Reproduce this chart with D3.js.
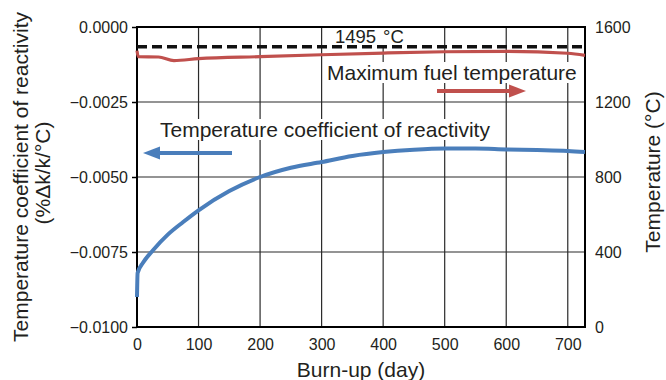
<!DOCTYPE html>
<html><head><meta charset="utf-8">
<script src="https://cdn.jsdelivr.net/npm/d3@7"></script>
<style>
body{margin:0;background:#fff;}
text{font-family:"Liberation Sans",Arial,Helvetica,sans-serif;fill:#231f20;}
</style></head>
<body><svg id="c" width="666" height="380"></svg>
<script>
// Data
const coefDays = [0, 1, 10, 26, 50, 75, 100, 150, 200, 250, 300, 350, 400, 450, 500, 550, 600, 650, 700, 728];
const coefValues = [-0.0090, -0.0082, -0.00785, -0.00744, -0.00692, -0.0065, -0.00611, -0.00547, -0.0050, -0.00469, -0.0045, -0.0043, -0.00417, -0.00409, -0.00405, -0.00405, -0.00408, -0.0041, -0.00413, -0.00417];
const tempDays = [0, 2, 35, 60, 100, 200, 300, 400, 500, 600, 700, 728];
const tempValues = [1474, 1442, 1440, 1421, 1431, 1442, 1452, 1461, 1468, 1470, 1460, 1449];
const limitTemp = 1495;
const xTicks = [0, 100, 200, 300, 400, 500, 600, 700];
const leftTicks = [0, -0.0025, -0.005, -0.0075, -0.01];
const leftTickLabels = ["0.0000", "\u22120.0025", "\u22120.0050", "\u22120.0075", "\u22120.0100"];
const rightTicks = [0, 400, 800, 1200, 1600];

const L = 137, R = 585, T = 27, B = 327;
const blue = "#4a7ebb", red = "#c0504d";
const svg = d3.select("#c");
const x = d3.scaleLinear().domain([0, 728]).range([L, R]);
const yL = d3.scaleLinear().domain([-0.01, 0]).range([B, T]);
const yR = d3.scaleLinear().domain([0, 1600]).range([B, T]);

// grid
const g = svg.append("g");
g.selectAll(".vg").data(xTicks.filter(d => d > 0)).join("line")
  .attr("x1", d => x(d)).attr("x2", d => x(d)).attr("y1", T).attr("y2", B)
  .attr("stroke", "#2a2a2a").attr("stroke-width", 1.2);
g.selectAll(".hg").data(leftTicks.filter(d => d < 0 && d > -0.01)).join("line")
  .attr("x1", L).attr("x2", R).attr("y1", d => yL(d)).attr("y2", d => yL(d))
  .attr("stroke", "#2a2a2a").attr("stroke-width", 1.2);

// axes
const ax = svg.append("g");
const leftAxis = d3.axisLeft(yL).tickValues(leftTicks).tickSize(5).tickPadding(4)
  .tickFormat((d, i) => leftTickLabels[i]);
const la = ax.append("g").attr("transform", `translate(${L},0)`).call(leftAxis);
const rightAxis = d3.axisRight(yR).tickValues(rightTicks).tickSize(0).tickPadding(10).tickFormat(d3.format("d"));
const ra = ax.append("g").attr("transform", `translate(${R},0)`).call(rightAxis);
const bottomAxis = d3.axisBottom(x).tickValues(xTicks).tickSize(0).tickPadding(12).tickFormat(d3.format("d"));
const ba = ax.append("g").attr("transform", `translate(0,${B})`).call(bottomAxis);
[la, ra, ba].forEach(a => {
  a.select(".domain").remove();
  a.selectAll("text").style("font-size", "16px").attr("fill", "#231f20")
    .style("font-family", '"Liberation Sans",Arial,sans-serif');
  a.selectAll("line").attr("stroke", "#000").attr("stroke-width", 1.5);
});
ba.selectAll("text").attr("dy", "0.71em");

// labels with white background
function label(txt, xx, yy, size) {
  const t = svg.append("text").attr("x", xx).attr("y", yy).style("font-size", size + "px").text(txt);
  const bb = t.node().getBBox();
  svg.insert("rect", () => t.node()).attr("x", bb.x - 1).attr("y", bb.y + 1)
    .attr("width", bb.width + 2).attr("height", bb.height - 2).attr("fill", "#fff");
  return t;
}
label("Temperature coefficient of reactivity", 160, 137, 21);
label("Maximum fuel temperature", 327, 80, 21);
label("1495", 335, 43, 18.5);
label("\u00b0C", 383, 43, 18.5);

// border
svg.append("rect").attr("x", L).attr("y", T).attr("width", R - L).attr("height", B - T)
  .attr("fill", "none").attr("stroke", "#000").attr("stroke-width", 2);

// limit dashed line
svg.append("line").attr("x1", L).attr("x2", R).attr("y1", yR(limitTemp)).attr("y2", yR(limitTemp))
  .attr("stroke", "#111").attr("stroke-width", 3.6).attr("stroke-dasharray", "10,5");

// series
const tempLine = d3.line().x((d, i) => x(tempDays[i])).y(d => yR(d)).curve(d3.curveMonotoneX);
svg.append("path").attr("d", tempLine(tempValues)).attr("fill", "none")
  .attr("stroke", red).attr("stroke-width", 3.2);
const coefLine = d3.line().x((d, i) => x(coefDays[i])).y(d => yL(d)).curve(d3.curveMonotoneX);
svg.append("path").attr("d", coefLine(coefValues)).attr("fill", "none")
  .attr("stroke", blue).attr("stroke-width", 4);

// arrows
function arrow(x1, x2, yy, col) {
  const dir = Math.sign(x2 - x1);
  svg.append("line").attr("x1", x1).attr("x2", x2 - dir * 14).attr("y1", yy).attr("y2", yy)
    .attr("stroke", col).attr("stroke-width", 4);
  svg.append("path").attr("d", `M${x2},${yy} L${x2 - dir * 17},${yy - 6.5} L${x2 - dir * 17},${yy + 6.5} Z`)
    .attr("fill", col);
}
arrow(232, 143, 153, blue);
arrow(437, 526, 91, red);

// axis titles
svg.append("text").attr("transform", "translate(28,177) rotate(-90)").attr("text-anchor", "middle")
  .style("font-size", "21px").text("Temperature coefficient of reactivity");
svg.append("text").attr("transform", "translate(50,173) rotate(-90)").attr("text-anchor", "middle")
  .style("font-size", "21px").text("(%\u0394k/k/\u00b0C)");
svg.append("text").attr("transform", "translate(660,172) rotate(-90)").attr("text-anchor", "middle")
  .style("font-size", "21px").text("Temperature (\u00b0C)");
svg.append("text").attr("x", (L + R) / 2).attr("y", 377).attr("text-anchor", "middle")
  .style("font-size", "21px").text("Burn-up (day)");
</script></body></html>
